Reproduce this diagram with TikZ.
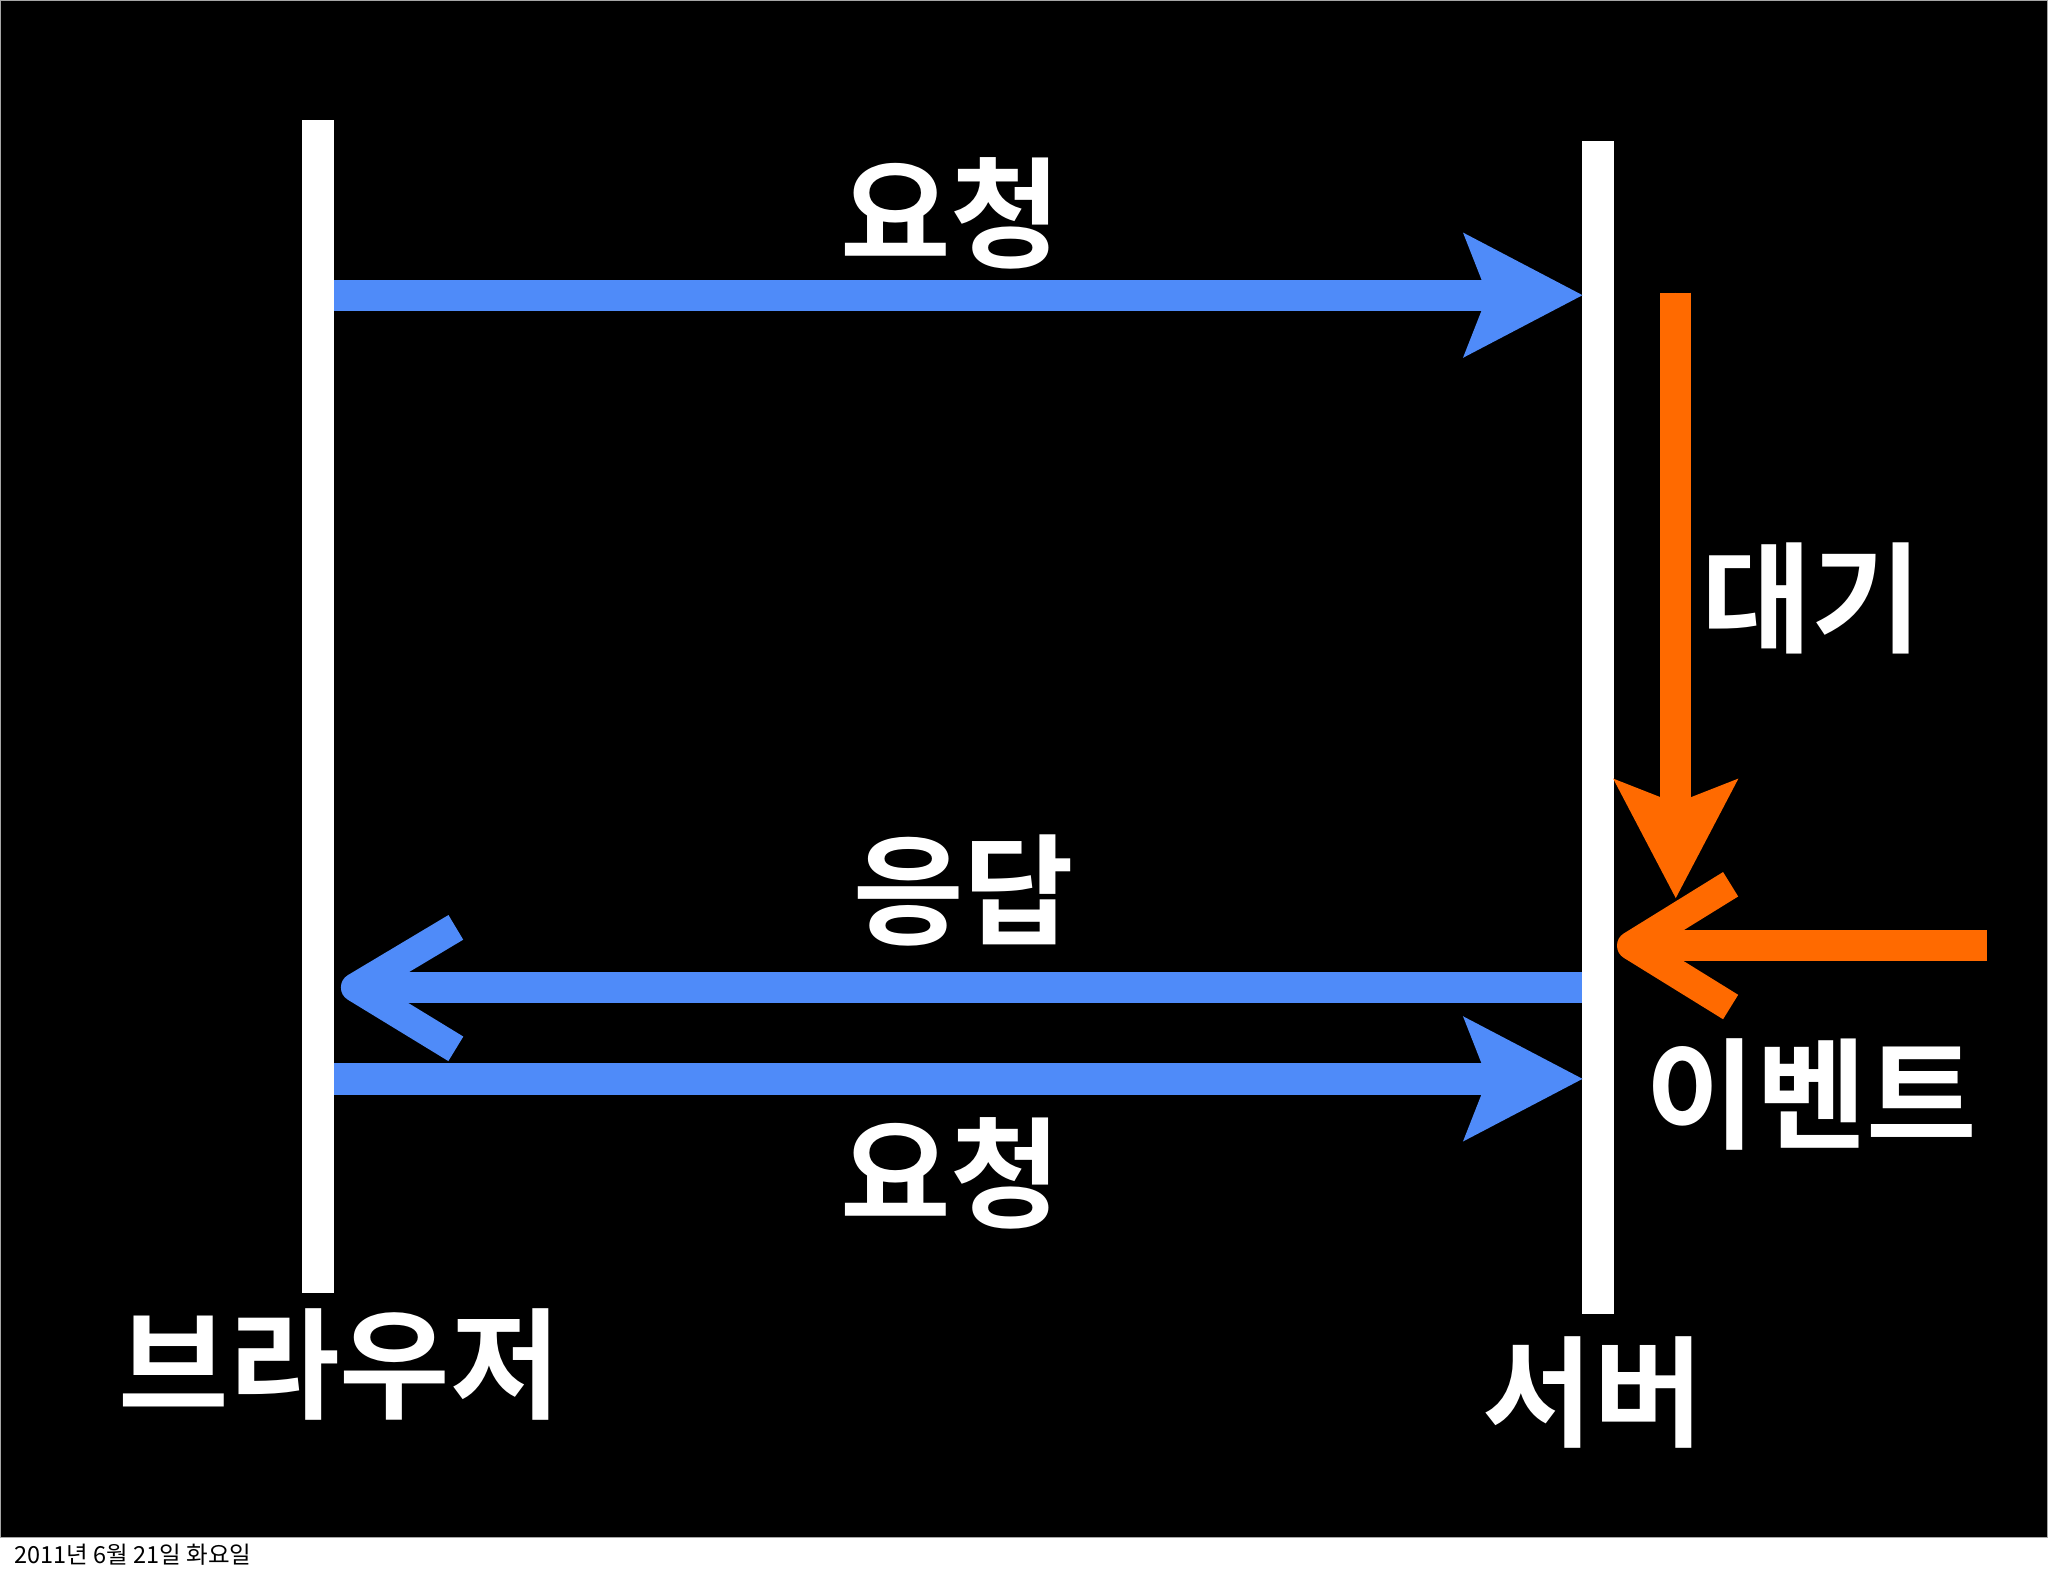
\documentclass[tikz,border=0pt]{standalone}
\usepackage{fontspec}
\newfontfamily\kr{Noto Sans CJK KR}
\newfontfamily\krb{Noto Sans CJK KR Bold}
\usetikzlibrary{arrows.meta}
\definecolor{blu}{HTML}{4F8BF9}
\definecolor{org}{HTML}{FF6A00}
\tikzset{
  lbl/.style={text=white,font=\krb\fontsize{92}{96}\selectfont,inner sep=0pt},
  bar/.style={fill=white,draw=none},
  harr/.style={line width=24pt,-{Stealth[length=90pt,width=92pt,inset=17pt]}},
  chev/.style={line width=22pt,line join=round,line cap=butt},
}
\begin{document}
\begin{tikzpicture}[x=1pt,y=-1pt]
\useasboundingbox (0,0) rectangle (1568,1207);
\fill[white] (0,0) rectangle (1568,1207);
\draw[fill=black,draw=gray!70,line width=1pt] (0.5,0.5) rectangle (1567.5,1177);
\node[anchor=west,font=\kr\fontsize{18}{20}\selectfont,inner sep=0pt] (foot) at (11,1190) {2011년 6월 21일 화요일};
% bars
\fill[bar] (231,92) rectangle (256,990);
\fill[bar] (1211,108) rectangle (1236,1006);
\coordinate (L1) at (256,226); \coordinate (R1) at (1212,226);
\coordinate (L2) at (256,826); \coordinate (R2) at (1212,826);
\coordinate (R3) at (1211,756); \coordinate (L3) at (290,756);
\coordinate (OT) at (1283,224); \coordinate (OB) at (1283,688);
\coordinate (OR) at (1521,724); \coordinate (OL) at (1266,724);
% blue arrows
\draw[harr,draw=blu,fill=blu] (L1) -- (R1);
\draw[harr,draw=blu,fill=blu] (L2) -- (R2);
\draw[line width=24pt,blu] (R3) -- (L3);
\draw[chev,blu] (349,710) -- (272,756) -- (349,803);
% orange
\draw[harr,draw=org,fill=org] (OT) -- (OB);
\draw[line width=24pt,org] (OR) -- (OL);
\draw[chev,org] (1325,677) -- (1249,724) -- (1325,771);
% labels
\node[lbl] (t1) at (728,163) {요청};
\node[lbl] (t2) at (738,682) {응답};
\node[lbl] (t3) at (728,898) {요청};
\node[lbl] (t4) at (1387,458) {대기};
\node[lbl] (t5) at (1387,838) {이벤트};
\node[lbl] (t6) at (260,1045) {브라우저};
\node[lbl] (t7) at (1220,1066) {서버};
\end{tikzpicture}
\end{document}
